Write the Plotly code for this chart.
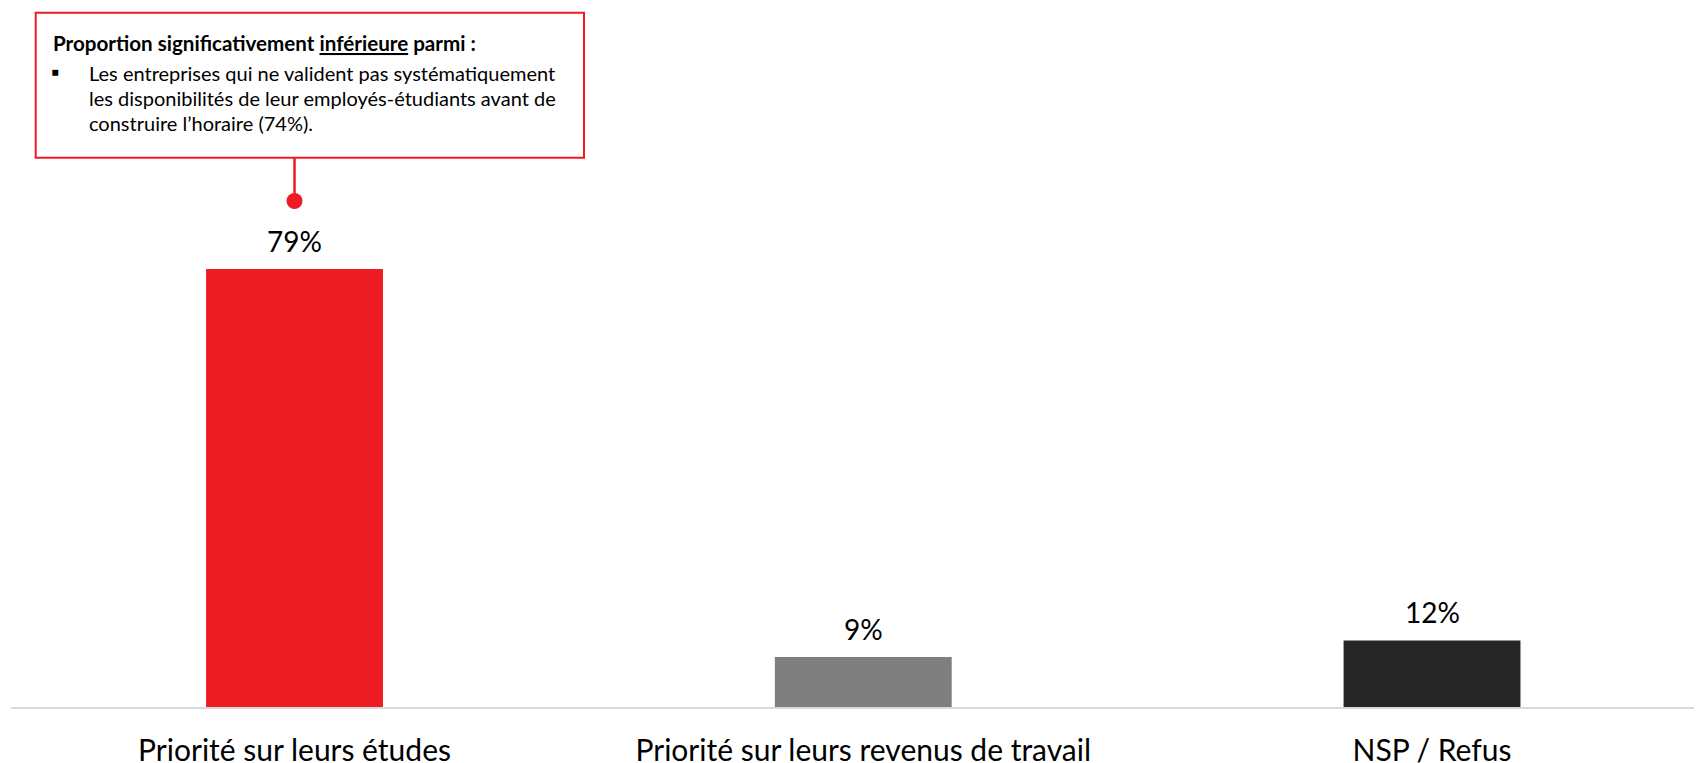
import plotly.graph_objects as go

# ---- data ----
categories = ["Priorité sur leurs études", "Priorité sur leurs revenus de travail", "NSP / Refus"]
values = [79, 9, 12]
value_labels = ["79%", "9%", "12%"]
bar_colors = ["#ED1C24", "#7F7F7F", "#262626"]

note_title = "<b>Proportion significativement <u>inférieure</u> parmi :</b>"
note_bullet = "▪"
note_lines = [
    "Les entreprises qui ne valident pas systématiquement",
    "les disponibilités de leur employés-étudiants avant de",
    "construire l’horaire (74%).",
]

# page body has an 8px margin, so the figure is sized to end at the window edge
W, H = 1694, 755
ML, MR, MT, MB = 3, 0, 0, 56
PW, PH = W - ML - MR, H - MT - MB
FONT = "Lato, 'Open Sans', sans-serif"
RED = "#ED1C24"


def px_x(p):
    return (p - ML) / PW


def px_y(p):
    return (H - MB - p) / PH


fig = go.Figure()
fig.add_trace(go.Bar(
    x=categories,
    y=values,
    marker=dict(color=bar_colors, line=dict(width=0)),
    width=0.311,
    hoverinfo="skip",
))

annotations = []
for c, v, t in zip(categories, values, value_labels):
    annotations.append(dict(
        x=c, y=v, xref="x", yref="y", text=t, showarrow=False,
        yanchor="middle", yshift=28,
        font=dict(family=FONT, size=28, color="#000000"),
    ))

# callout box text
annotations.append(dict(
    x=px_x(42.7), y=px_y(35.4), xref="paper", yref="paper", xanchor="left", yanchor="middle",
    text=note_title, showarrow=False, align="left",
    font=dict(family=FONT, size=20.6, color="#000000"),
))
annotations.append(dict(
    x=px_x(40.5), y=px_y(63), xref="paper", yref="paper", xanchor="left", yanchor="middle",
    text=note_bullet, showarrow=False, align="left",
    font=dict(family=FONT, size=22, color="#000000"),
))
for i, line in enumerate(note_lines):
    annotations.append(dict(
        x=px_x(78.5), y=px_y(64.7 + 25 * i), xref="paper", yref="paper",
        xanchor="left", yanchor="middle",
        text=line, showarrow=False, align="left",
        font=dict(family=FONT, size=20, color="#000000"),
    ))

shapes = [
    dict(type="rect", xref="paper", yref="paper",
         x0=px_x(27.7), x1=px_x(576), y0=px_y(149.7), y1=px_y(4.7),
         line=dict(color=RED, width=2), fillcolor="rgba(0,0,0,0)"),
    dict(type="line", xref="x", yref="paper",
         x0=0, x1=0, y0=px_y(149.7), y1=px_y(193),
         line=dict(color=RED, width=2.5)),
    dict(type="circle", xref="x", yref="paper",
         xsizemode="pixel", ysizemode="pixel",
         xanchor=0, yanchor=px_y(193),
         x0=-8, x1=8, y0=-8, y1=8,
         fillcolor=RED, line=dict(color=RED, width=0)),
]

fig.update_layout(
    width=W, height=H,
    margin=dict(l=ML, r=MR, t=MT, b=MB, pad=0, autoexpand=False),
    plot_bgcolor="white", paper_bgcolor="white",
    showlegend=False,
    annotations=annotations,
    shapes=shapes,
    xaxis=dict(
        range=[-0.4985, 2.4747],
        automargin=False,
        showline=True, linecolor="#D9D9D9", linewidth=2,
        showgrid=False, zeroline=False, ticks="",
        tickfont=dict(family=FONT, size=30, color="#000000"),
        ticklabelstandoff=16,
        fixedrange=True,
    ),
    yaxis=dict(range=[0, 126.1], visible=False, fixedrange=True, automargin=False),
)

fig.write_html("out.html", config={"displayModeBar": False})
